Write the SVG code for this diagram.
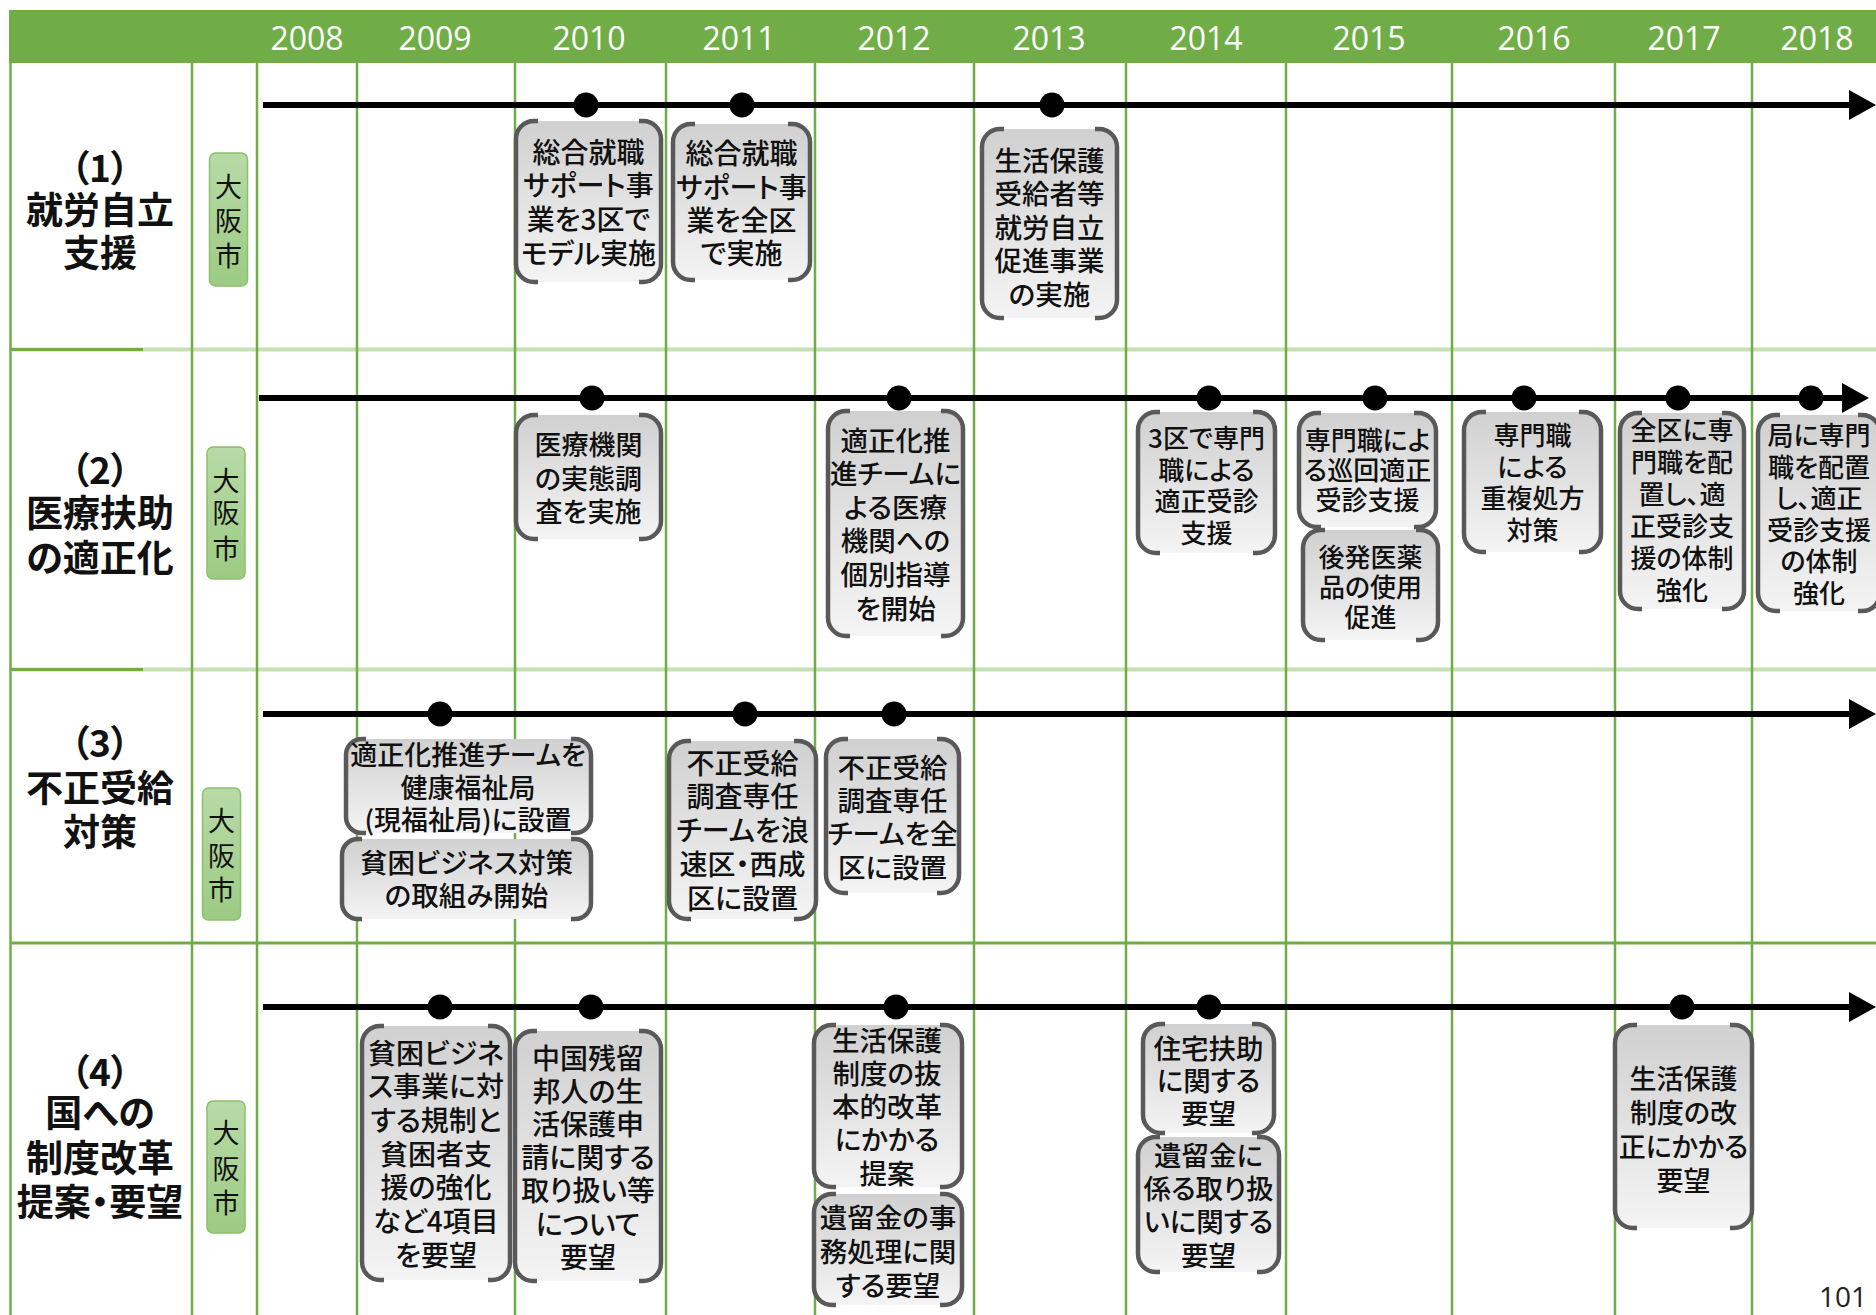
<svg xmlns="http://www.w3.org/2000/svg" width="1876" height="1315" viewBox="0 0 1876 1315">
<style>
.t{font-family:"Noto Sans CJK JP","Noto Sans",sans-serif;font-feature-settings:"palt";fill:#111;text-anchor:middle;font-weight:500}
.lb{font-size:37px;font-weight:700}
.os{font-size:27px;fill:#111;font-weight:400}
.yr{font-family:"Open Sans","Noto Sans",sans-serif;font-size:32px;fill:#fff;text-anchor:middle}
.bf{fill:url(#gBox)}
.br{fill:none;stroke:#595959;stroke-width:4.5}
.gb{fill:url(#gGreen);stroke:#8cc06c;stroke-width:1.5}
.vl{stroke:#70ad47;stroke-width:2.5}
.tl{stroke:#000;stroke-width:6;marker-end:url(#arr)}
.dot{fill:#000}
</style>
<defs>
<linearGradient id="gBox" x1="0" y1="0" x2="0" y2="1"><stop offset="0" stop-color="#d0d0d0"/><stop offset="1" stop-color="#f4f4f4"/></linearGradient>
<linearGradient id="gGreen" x1="0" y1="0" x2="0" y2="1"><stop offset="0" stop-color="#b8daa7"/><stop offset="1" stop-color="#9ccb83"/></linearGradient>
<marker id="arr" markerUnits="userSpaceOnUse" markerWidth="27" markerHeight="30" refX="1" refY="15" orient="auto"><path d="M0,0 L27,15 L0,30 Z" fill="#000"/></marker>
</defs>
<rect width="1876" height="1315" fill="#fff"/>
<g id="grid">
<rect x="9" y="10" width="1867" height="53" fill="#70ad47"/>
<line x1="10" y1="349.5" x2="1876" y2="349.5" stroke="#c5e0b4" stroke-width="4"/>
<line x1="10" y1="349.5" x2="143" y2="349.5" stroke="#70ad47" stroke-width="3"/>
<line x1="10" y1="669.5" x2="1876" y2="669.5" stroke="#c5e0b4" stroke-width="4"/>
<line x1="10" y1="669.5" x2="143" y2="669.5" stroke="#70ad47" stroke-width="3"/>
<line x1="10" y1="943" x2="1876" y2="943" stroke="#70ad47" stroke-width="3"/>
<line class="vl" x1="10.5" y1="63" x2="10.5" y2="1315"/>
<line class="vl" x1="192" y1="63" x2="192" y2="1315"/>
<line class="vl" x1="257" y1="63" x2="257" y2="1315"/>
<line class="vl" x1="357" y1="63" x2="357" y2="1315"/>
<line class="vl" x1="515" y1="63" x2="515" y2="1315"/>
<line class="vl" x1="666" y1="63" x2="666" y2="1315"/>
<line class="vl" x1="815" y1="63" x2="815" y2="1315"/>
<line class="vl" x1="974" y1="63" x2="974" y2="1315"/>
<line class="vl" x1="1126" y1="63" x2="1126" y2="1315"/>
<line class="vl" x1="1286" y1="63" x2="1286" y2="1315"/>
<line class="vl" x1="1452" y1="63" x2="1452" y2="1315"/>
<line class="vl" x1="1615" y1="63" x2="1615" y2="1315"/>
<line class="vl" x1="1752" y1="63" x2="1752" y2="1315"/>
<text class="yr" x="307" y="50">2008</text>
<text class="yr" x="435" y="50">2009</text>
<text class="yr" x="589" y="50">2010</text>
<text class="yr" x="739" y="50">2011</text>
<text class="yr" x="894" y="50">2012</text>
<text class="yr" x="1049" y="50">2013</text>
<text class="yr" x="1206" y="50">2014</text>
<text class="yr" x="1369" y="50">2015</text>
<text class="yr" x="1534" y="50">2016</text>
<text class="yr" x="1684" y="50">2017</text>
<text class="yr" x="1817" y="50">2018</text>
</g>
<g id="labels">
<g id="label-1"><text class="t lb"><tspan x="100" y="182">（1）</tspan><tspan x="100" y="224">就労自立</tspan><tspan x="100" y="267">支援</tspan></text></g>
<g id="label-2"><text class="t lb"><tspan x="100" y="484">（2）</tspan><tspan x="100" y="527">医療扶助</tspan><tspan x="100" y="572">の適正化</tspan></text></g>
<g id="label-3"><text class="t lb"><tspan x="100" y="757">（3）</tspan><tspan x="100" y="802">不正受給</tspan><tspan x="100" y="846">対策</tspan></text></g>
<g id="label-4"><text class="t lb"><tspan x="100" y="1086">（4）</tspan><tspan x="100" y="1127">国への</tspan><tspan x="100" y="1172">制度改革</tspan><tspan x="100" y="1216">提案・要望</tspan></text></g>
</g>
<g id="osaka">
<g id="osaka-1"><rect class="gb" x="209.5" y="153" width="38" height="133" rx="6"/><text class="t os"><tspan x="228.5" y="197">大</tspan><tspan x="228.5" y="230.5">阪</tspan><tspan x="228.5" y="265.5">市</tspan></text></g>
<g id="osaka-2"><rect class="gb" x="207" y="447" width="38" height="132" rx="6"/><text class="t os"><tspan x="226" y="490.5">大</tspan><tspan x="226" y="523">阪</tspan><tspan x="226" y="559">市</tspan></text></g>
<g id="osaka-3"><rect class="gb" x="202.5" y="788" width="38" height="132" rx="6"/><text class="t os"><tspan x="221.5" y="830.5">大</tspan><tspan x="221.5" y="865.5">阪</tspan><tspan x="221.5" y="900">市</tspan></text></g>
<g id="osaka-4"><rect class="gb" x="207" y="1101" width="38" height="132" rx="6"/><text class="t os"><tspan x="226" y="1142.5">大</tspan><tspan x="226" y="1179">阪</tspan><tspan x="226" y="1213">市</tspan></text></g>
</g>
<g id="connectors">
<line class="tl" x1="263" y1="105" x2="1850" y2="105"/>
<line class="tl" x1="259" y1="398" x2="1843" y2="398"/>
<line class="tl" x1="263" y1="714" x2="1850" y2="714"/>
<line class="tl" x1="263" y1="1007" x2="1850" y2="1007"/>
<circle class="dot" cx="586" cy="105" r="12.5"/>
<circle class="dot" cx="742" cy="105" r="12.5"/>
<circle class="dot" cx="1052" cy="105" r="12.5"/>
<circle class="dot" cx="592" cy="398" r="12.5"/>
<circle class="dot" cx="899" cy="398" r="12.5"/>
<circle class="dot" cx="1209" cy="398" r="12.5"/>
<circle class="dot" cx="1375" cy="398" r="12.5"/>
<circle class="dot" cx="1524" cy="398" r="12.5"/>
<circle class="dot" cx="1678" cy="398" r="12.5"/>
<circle class="dot" cx="1811" cy="398" r="12.5"/>
<circle class="dot" cx="440" cy="714" r="12.5"/>
<circle class="dot" cx="745" cy="714" r="12.5"/>
<circle class="dot" cx="894" cy="714" r="12.5"/>
<circle class="dot" cx="440" cy="1007" r="12.5"/>
<circle class="dot" cx="591" cy="1007" r="12.5"/>
<circle class="dot" cx="896" cy="1007" r="12.5"/>
<circle class="dot" cx="1209" cy="1007" r="12.5"/>
<circle class="dot" cx="1682" cy="1007" r="12.5"/>
</g>
<g id="nodes">
<g id="b1"><rect class="bf" x="516" y="121" width="145" height="161" rx="18"/><path class="br" d="M538,121H534A18,18 0 0 0 516,139V264A18,18 0 0 0 534,282H538M639,121H643A18,18 0 0 1 661,139V264A18,18 0 0 1 643,282H639"/><text class="t" font-size="28"><tspan x="588.5" y="162.6">総合就職</tspan><tspan x="588.5" y="196.3">サポート事</tspan><tspan x="588.5" y="230">業を3区で</tspan><tspan x="588.5" y="263.6">モデル実施</tspan></text></g>
<g id="b2"><rect class="bf" x="673" y="124" width="137" height="156" rx="18"/><path class="br" d="M695,124H691A18,18 0 0 0 673,142V262A18,18 0 0 0 691,280H695M788,124H792A18,18 0 0 1 810,142V262A18,18 0 0 1 792,280H788"/><text class="t" font-size="28"><tspan x="741.5" y="164">総合就職</tspan><tspan x="741.5" y="197.5">サポート事</tspan><tspan x="741.5" y="231">業を全区</tspan><tspan x="741.5" y="264">で実施</tspan></text></g>
<g id="b3"><rect class="bf" x="982" y="129" width="135" height="189" rx="18"/><path class="br" d="M1004,129H1000A18,18 0 0 0 982,147V300A18,18 0 0 0 1000,318H1004M1095,129H1099A18,18 0 0 1 1117,147V300A18,18 0 0 1 1099,318H1095"/><text class="t" font-size="27.5"><tspan x="1049.5" y="170.5">生活保護</tspan><tspan x="1049.5" y="204">受給者等</tspan><tspan x="1049.5" y="237.5">就労自立</tspan><tspan x="1049.5" y="271">促進事業</tspan><tspan x="1049.5" y="304.5">の実施</tspan></text></g>
<g id="b4"><rect class="bf" x="516" y="415" width="145" height="124" rx="18"/><path class="br" d="M538,415H534A18,18 0 0 0 516,433V521A18,18 0 0 0 534,539H538M639,415H643A18,18 0 0 1 661,433V521A18,18 0 0 1 643,539H639"/><text class="t" font-size="27"><tspan x="588.5" y="455">医療機関</tspan><tspan x="588.5" y="488.5">の実態調</tspan><tspan x="588.5" y="522">査を実施</tspan></text></g>
<g id="b5"><rect class="bf" x="828" y="411" width="135" height="225" rx="18"/><path class="br" d="M850,411H846A18,18 0 0 0 828,429V618A18,18 0 0 0 846,636H850M941,411H945A18,18 0 0 1 963,429V618A18,18 0 0 1 945,636H941"/><text class="t" font-size="27.5"><tspan x="895.5" y="450.5">適正化推</tspan><tspan x="895.5" y="484">進チームに</tspan><tspan x="895.5" y="517.5">よる医療</tspan><tspan x="895.5" y="551">機関への</tspan><tspan x="895.5" y="585">個別指導</tspan><tspan x="895.5" y="618.5">を開始</tspan></text></g>
<g id="b6"><rect class="bf" x="1138" y="412" width="137" height="141" rx="18"/><path class="br" d="M1160,412H1156A18,18 0 0 0 1138,430V535A18,18 0 0 0 1156,553H1160M1253,412H1257A18,18 0 0 1 1275,430V535A18,18 0 0 1 1257,553H1253"/><text class="t" font-size="26"><tspan x="1206.5" y="448">3区で専門</tspan><tspan x="1206.5" y="479.5">職による</tspan><tspan x="1206.5" y="511">適正受診</tspan><tspan x="1206.5" y="542.5">支援</tspan></text></g>
<g id="b7"><rect class="bf" x="1299" y="413" width="137" height="114" rx="18"/><path class="br" d="M1321,413H1317A18,18 0 0 0 1299,431V509A18,18 0 0 0 1317,527H1321M1414,413H1418A18,18 0 0 1 1436,431V509A18,18 0 0 1 1418,527H1414"/><text class="t" font-size="26"><tspan x="1367.5" y="450">専門職によ</tspan><tspan x="1367.5" y="480">る巡回適正</tspan><tspan x="1367.5" y="510">受診支援</tspan></text></g>
<g id="b8"><rect class="bf" x="1303" y="530" width="135" height="110" rx="18"/><path class="br" d="M1325,530H1321A18,18 0 0 0 1303,548V622A18,18 0 0 0 1321,640H1325M1416,530H1420A18,18 0 0 1 1438,548V622A18,18 0 0 1 1420,640H1416"/><text class="t" font-size="26"><tspan x="1370.5" y="567">後発医薬</tspan><tspan x="1370.5" y="597">品の使用</tspan><tspan x="1370.5" y="627">促進</tspan></text></g>
<g id="b9"><rect class="bf" x="1464" y="412" width="137" height="140" rx="18"/><path class="br" d="M1486,412H1482A18,18 0 0 0 1464,430V534A18,18 0 0 0 1482,552H1486M1579,412H1583A18,18 0 0 1 1601,430V534A18,18 0 0 1 1583,552H1579"/><text class="t" font-size="26"><tspan x="1532.5" y="445">専門職</tspan><tspan x="1532.5" y="476.7">による</tspan><tspan x="1532.5" y="508.3">重複処方</tspan><tspan x="1532.5" y="540">対策</tspan></text></g>
<g id="b10"><rect class="bf" x="1620" y="413" width="124" height="196" rx="18"/><path class="br" d="M1642,413H1638A18,18 0 0 0 1620,431V591A18,18 0 0 0 1638,609H1642M1722,413H1726A18,18 0 0 1 1744,431V591A18,18 0 0 1 1726,609H1722"/><text class="t" font-size="26"><tspan x="1682" y="440">全区に専</tspan><tspan x="1682" y="472">門職を配</tspan><tspan x="1682" y="504">置し、適</tspan><tspan x="1682" y="536">正受診支</tspan><tspan x="1682" y="568">援の体制</tspan><tspan x="1682" y="600">強化</tspan></text></g>
<g id="b11"><rect class="bf" x="1758" y="415" width="122" height="196" rx="18"/><path class="br" d="M1780,415H1776A18,18 0 0 0 1758,433V593A18,18 0 0 0 1776,611H1780M1858,415H1862A18,18 0 0 1 1880,433V593A18,18 0 0 1 1862,611H1858"/><text class="t" font-size="26"><tspan x="1819" y="445">局に専門</tspan><tspan x="1819" y="476.6">職を配置</tspan><tspan x="1819" y="508.2">し、適正</tspan><tspan x="1819" y="539.8">受診支援</tspan><tspan x="1819" y="571.4">の体制</tspan><tspan x="1819" y="603">強化</tspan></text></g>
<g id="b12"><rect class="bf" x="346" y="739" width="245" height="94" rx="16"/><path class="br" d="M366,739H362A16,16 0 0 0 346,755V817A16,16 0 0 0 362,833H366M571,739H575A16,16 0 0 1 591,755V817A16,16 0 0 1 575,833H571"/><text class="t" font-size="27"><tspan x="468" y="765.3">適正化推進チームを</tspan><tspan x="468" y="798.3">健康福祉局</tspan><tspan x="468" y="830.3">(現福祉局)に設置</tspan></text></g>
<g id="b13"><rect class="bf" x="342" y="839" width="249" height="80" rx="16"/><path class="br" d="M362,839H358A16,16 0 0 0 342,855V903A16,16 0 0 0 358,919H362M571,839H575A16,16 0 0 1 591,855V903A16,16 0 0 1 575,919H571"/><text class="t" font-size="27.5"><tspan x="466.5" y="872.5">貧困ビジネス対策</tspan><tspan x="466.5" y="905.5">の取組み開始</tspan></text></g>
<g id="b14"><rect class="bf" x="669" y="741" width="147" height="178" rx="18"/><path class="br" d="M691,741H687A18,18 0 0 0 669,759V901A18,18 0 0 0 687,919H691M794,741H798A18,18 0 0 1 816,759V901A18,18 0 0 1 798,919H794"/><text class="t" font-size="28"><tspan x="742.5" y="773.6">不正受給</tspan><tspan x="742.5" y="807.4">調査専任</tspan><tspan x="742.5" y="841.1">チームを浪</tspan><tspan x="742.5" y="874.9">速区・西成</tspan><tspan x="742.5" y="908.6">区に設置</tspan></text></g>
<g id="b15"><rect class="bf" x="826" y="739" width="133" height="154" rx="18"/><path class="br" d="M848,739H844A18,18 0 0 0 826,757V875A18,18 0 0 0 844,893H848M937,739H941A18,18 0 0 1 959,757V875A18,18 0 0 1 941,893H937"/><text class="t" font-size="27.5"><tspan x="892.5" y="777.5">不正受給</tspan><tspan x="892.5" y="810.8">調査専任</tspan><tspan x="892.5" y="844.2">チームを全</tspan><tspan x="892.5" y="877.5">区に設置</tspan></text></g>
<g id="b16"><rect class="bf" x="362" y="1026" width="148" height="254" rx="18"/><path class="br" d="M384,1026H380A18,18 0 0 0 362,1044V1262A18,18 0 0 0 380,1280H384M488,1026H492A18,18 0 0 1 510,1044V1262A18,18 0 0 1 492,1280H488"/><text class="t" font-size="28"><tspan x="436" y="1063.6">貧困ビジネ</tspan><tspan x="436" y="1097.3">ス事業に対</tspan><tspan x="436" y="1130.9">する規制と</tspan><tspan x="436" y="1164.6">貧困者支</tspan><tspan x="436" y="1198.3">援の強化</tspan><tspan x="436" y="1231.9">など4項目</tspan><tspan x="436" y="1265.6">を要望</tspan></text></g>
<g id="b17"><rect class="bf" x="515" y="1031" width="146" height="250" rx="18"/><path class="br" d="M537,1031H533A18,18 0 0 0 515,1049V1263A18,18 0 0 0 533,1281H537M639,1031H643A18,18 0 0 1 661,1049V1263A18,18 0 0 1 643,1281H639"/><text class="t" font-size="28"><tspan x="588" y="1068.6">中国残留</tspan><tspan x="588" y="1101.8">邦人の生</tspan><tspan x="588" y="1135">活保護申</tspan><tspan x="588" y="1168.2">請に関する</tspan><tspan x="588" y="1201.4">取り扱い等</tspan><tspan x="588" y="1234.6">について</tspan><tspan x="588" y="1267.8">要望</tspan></text></g>
<g id="b18"><rect class="bf" x="814" y="1025" width="148" height="162" rx="18"/><path class="br" d="M836,1025H832A18,18 0 0 0 814,1043V1169A18,18 0 0 0 832,1187H836M940,1025H944A18,18 0 0 1 962,1043V1169A18,18 0 0 1 944,1187H940"/><text class="t" font-size="27.5"><tspan x="887" y="1050.5">生活保護</tspan><tspan x="887" y="1083.8">制度の抜</tspan><tspan x="887" y="1117">本的改革</tspan><tspan x="887" y="1150.3">にかかる</tspan><tspan x="887" y="1183.5">提案</tspan></text></g>
<g id="b19"><rect class="bf" x="814" y="1194" width="148" height="111" rx="18"/><path class="br" d="M836,1194H832A18,18 0 0 0 814,1212V1287A18,18 0 0 0 832,1305H836M940,1194H944A18,18 0 0 1 962,1212V1287A18,18 0 0 1 944,1305H940"/><text class="t" font-size="27.5"><tspan x="888" y="1227.5">遺留金の事</tspan><tspan x="888" y="1261.5">務処理に関</tspan><tspan x="888" y="1295.5">する要望</tspan></text></g>
<g id="b20"><rect class="bf" x="1143" y="1024" width="131" height="109" rx="18"/><path class="br" d="M1165,1024H1161A18,18 0 0 0 1143,1042V1115A18,18 0 0 0 1161,1133H1165M1252,1024H1256A18,18 0 0 1 1274,1042V1115A18,18 0 0 1 1256,1133H1252"/><text class="t" font-size="27.5"><tspan x="1208.5" y="1058.5">住宅扶助</tspan><tspan x="1208.5" y="1091">に関する</tspan><tspan x="1208.5" y="1123.5">要望</tspan></text></g>
<g id="b21"><rect class="bf" x="1138" y="1137" width="141" height="135" rx="18"/><path class="br" d="M1160,1137H1156A18,18 0 0 0 1138,1155V1254A18,18 0 0 0 1156,1272H1160M1257,1137H1261A18,18 0 0 1 1279,1155V1254A18,18 0 0 1 1261,1272H1257"/><text class="t" font-size="27.5"><tspan x="1208.5" y="1165.5">遺留金に</tspan><tspan x="1208.5" y="1198.8">係る取り扱</tspan><tspan x="1208.5" y="1232.2">いに関する</tspan><tspan x="1208.5" y="1265.5">要望</tspan></text></g>
<g id="b22"><rect class="bf" x="1615" y="1025" width="137" height="203" rx="18"/><path class="br" d="M1637,1025H1633A18,18 0 0 0 1615,1043V1210A18,18 0 0 0 1633,1228H1637M1730,1025H1734A18,18 0 0 1 1752,1043V1210A18,18 0 0 1 1734,1228H1730"/><text class="t" font-size="27"><tspan x="1683.5" y="1088.5">生活保護</tspan><tspan x="1683.5" y="1122.5">制度の改</tspan><tspan x="1683.5" y="1156.5">正にかかる</tspan><tspan x="1683.5" y="1190.5">要望</tspan></text></g>
</g>
<text x="1867" y="1307" font-family="Open Sans, Noto Sans, sans-serif" font-size="28" fill="#222" text-anchor="end">101</text>
</svg>
